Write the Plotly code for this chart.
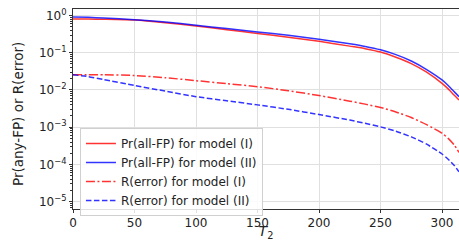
import plotly.graph_objects as go

t2 = [0, 12.5, 25, 50, 75, 100, 125, 150, 175, 200, 225, 237.5, 250, 262.5, 275, 287.5,
      300, 305, 310, 313.8]
pr_model1 = [0.813, 0.804, 0.794, 0.759, 0.646, 0.525, 0.417, 0.331, 0.263, 0.204, 0.151,
             0.129, 0.105, 0.0759, 0.0513, 0.0302, 0.0151, 0.0107, 0.0072, 0.0054]
pr_model2 = [0.923, 0.897, 0.861, 0.776, 0.676, 0.550, 0.447, 0.363, 0.295, 0.232, 0.174,
             0.148, 0.120, 0.0891, 0.0603, 0.0355, 0.0186, 0.0132, 0.0089, 0.0066]
err_model1 = [0.0257, 0.0257, 0.0257, 0.0245, 0.0214, 0.0178, 0.0148, 0.0123, 0.00955,
              0.00708, 0.00501, 0.00417, 0.00339, 0.00257, 0.00182, 0.00117, 0.00069,
              0.0005, 0.00033, 0.00021]
err_model2 = [0.0257, 0.0229, 0.0191, 0.0132, 0.00933, 0.00661, 0.00513, 0.00398, 0.00302,
              0.00219, 0.00155, 0.00127, 0.00102, 0.00078, 0.00055, 0.00035, 0.00019,
              0.000138, 0.000093, 0.000063]

names = ["Pr(all-FP) for model (I)", "Pr(all-FP) for model (II)",
         "R(error) for model (I)", "R(error) for model (II)"]
ytick_vals = [1, 0.1, 0.01, 0.001, 0.0001, 0.00001]
ytick_text = ["10<sup>0</sup>", "10<sup>\u22121</sup>", "10<sup>\u22122</sup>",
              "10<sup>\u22123</sup>", "10<sup>\u22124</sup>", "10<sup>\u22125</sup>"]
xtick_vals = [0, 50, 100, 150, 200, 250, 300]
y_title = "Pr(any-FP) or R(error)"

RED = "rgba(255,0,0,0.8)"
BLUE = "rgba(0,0,255,0.8)"

fig = go.Figure()
series = [
    (pr_model1, names[0], RED, "solid"),
    (pr_model2, names[1], BLUE, "solid"),
    (err_model1, names[2], RED, "9px,2.5px,2px,2.5px"),
    (err_model2, names[3], BLUE, "5.5px,2.5px"),
]
for ys, nm, col, dash in series:
    fig.add_trace(go.Scatter(x=t2, y=ys, name=nm, mode="lines",
                             line=dict(color=col, width=1.5, dash=dash,
                                       shape="spline", smoothing=0.5)))

minor_vals = [k * 10 ** e for e in range(-6, 1) for k in range(2, 10)]

fig.update_layout(
    width=459, height=241,
    margin=dict(l=73, r=0, t=9, b=32, autoexpand=False),
    paper_bgcolor="white", plot_bgcolor="white",
    font=dict(family="DejaVu Sans", size=11, color="#222"),
    showlegend=True,
    legend=dict(x=0.018, y=0.405, xanchor="left", yanchor="top",
                bgcolor="rgba(255,255,255,0.85)", bordercolor="#d0d0d0", borderwidth=1,
                font=dict(size=12, family="DejaVu Sans", color="#222"),
                tracegroupgap=0),
    xaxis=dict(range=[0, 313.8], tickvals=xtick_vals, showgrid=True, gridcolor="#e0e0e0",
               gridwidth=1, showline=True, linecolor="#333", linewidth=1, mirror=True,
               ticks="outside", ticklen=3, tickcolor="#333", zeroline=False,
               tickfont=dict(size=12, family="DejaVu Sans", color="#222"),
               title=dict(text="<i>T</i><sub>2</sub>", standoff=13,
                          font=dict(size=14, family="DejaVu Sans", color="#222"))),
    yaxis=dict(type="log", range=[-5.199, 0.177], tickvals=ytick_vals, ticktext=ytick_text,
               showgrid=True, gridcolor="#e0e0e0", gridwidth=1, showline=True,
               linecolor="#333", linewidth=1, mirror=True, ticks="outside", ticklen=3,
               tickcolor="#333", zeroline=False,
               tickfont=dict(size=12, family="DejaVu Sans", color="#222"),
               minor=dict(tickvals=minor_vals, ticks="outside", ticklen=2, tickcolor="#333",
                          showgrid=False)),
    annotations=[dict(text=y_title, xref="paper", yref="paper", x=-0.1425, y=0.475,
                      xanchor="center", yanchor="middle", textangle=-90, showarrow=False,
                      font=dict(size=13.5, family="DejaVu Sans", color="#222"))],
)

fig.write_html("out.html", config={"displayModeBar": False},
               post_script="document.body.style.margin='0';")
